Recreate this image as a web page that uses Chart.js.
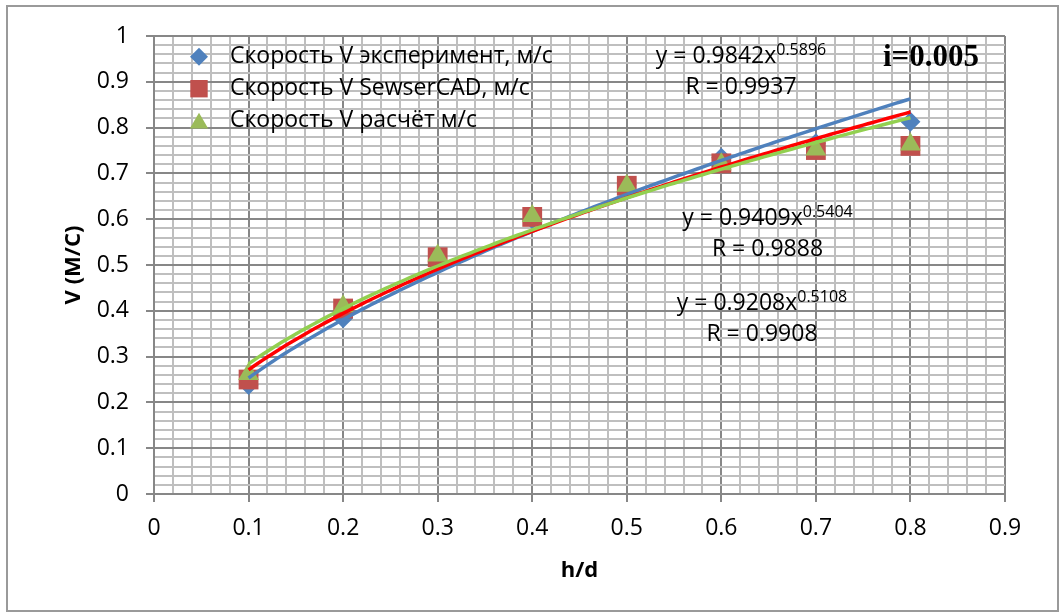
<!DOCTYPE html>
<html>
<head>
<meta charset="utf-8">
<script src="https://cdn.jsdelivr.net/npm/chart.js@4/dist/chart.umd.min.js"></script>
<style>
  html, body { margin: 0; padding: 0; background: #fff; }
  #wrap { width: 1061px; height: 613px; position: relative; }
</style>
</head>
<body>
<div id="wrap"><canvas id="chart"></canvas></div>
<script>
// h/d filling ratio
const depthRatio = [0.1, 0.2, 0.3, 0.4, 0.5, 0.6, 0.7, 0.8];
// flow velocity, m/s
const speedExperiment = [0.238, 0.384, 0.505, 0.600, 0.675, 0.734, 0.766, 0.813];
const speedSewerCad   = [0.250, 0.405, 0.517, 0.605, 0.673, 0.722, 0.751, 0.760];
const speedCalculated = [0.262, 0.410, 0.521, 0.607, 0.673, 0.720, 0.752, 0.763];

const seriesNames = [
  'Скорость V эксперимент, м/с',
  'Скорость V SewserCAD, м/с',
  'Скорость V расчёт м/с'
];

// power trendlines y = a·x^b and their correlation
const trendCoef = [0.9842, 0.9409, 0.9208];
const trendExp  = [0.5896, 0.5404, 0.5108];
const trendR    = ['0.9937', '0.9888', '0.9908'];

const slopeLabel = 'i=0.005';
const xTickLabels = ['0', '0.1', '0.2', '0.3', '0.4', '0.5', '0.6', '0.7', '0.8', '0.9'];
const yTickLabels = ['0', '0.1', '0.2', '0.3', '0.4', '0.5', '0.6', '0.7', '0.8', '0.9', '1'];
const xTitle = 'h/d';
const yTitle = 'V (M/C)';

const FONT = "'Open Sans', sans-serif";
const MAJOR = '#878787';
const MINOR = '#bfbfbf';
const markerColors = ['#4F81BD', '#C0504D', '#9BBB59'];
const markerStyles = ['rectRot', 'rect', 'triangle'];
const markerRadius = [10, 14, 12];
const trendColors = ['#4F81BD', '#FF0000', '#92D050'];

Chart.defaults.font.family = FONT;

function isMajor(v) {
  return v !== undefined && Math.abs(v * 10 - Math.round(v * 10)) < 1e-6;
}

// trendline curve sampled along the measured h/d range
function trendPoints(k) {
  const pts = [];
  const x0 = depthRatio[0], x1 = depthRatio[depthRatio.length - 1];
  const n = 140;
  for (let i = 0; i <= n; i++) {
    const x = x0 + (x1 - x0) * i / n;
    pts.push({ x: x, y: trendCoef[k] * Math.pow(x, trendExp[k]) });
  }
  return pts;
}

const seriesValues = [speedExperiment, speedSewerCad, speedCalculated];

const datasets = [];
seriesValues.forEach((vals, k) => {
  datasets.push({
    type: 'scatter',
    label: seriesNames[k],
    data: depthRatio.map((x, i) => ({ x: x, y: vals[i] })),
    pointStyle: markerStyles[k],
    pointRadius: markerRadius[k],
    pointBackgroundColor: markerColors[k],
    pointBorderColor: markerColors[k],
    pointBorderWidth: 0,
    showLine: false,
    order: 6 - k
  });
});
seriesValues.forEach((vals, k) => {
  datasets.push({
    type: 'line',
    label: 'trend ' + k,
    data: trendPoints(k),
    borderColor: trendColors[k],
    borderWidth: 3.5,
    pointRadius: 0,
    fill: false,
    tension: 0,
    order: 3 - k
  });
});

function drawEquation(ctx, cx, baseline, k) {
  const main = 'y = ' + trendCoef[k].toFixed(4) + 'x';
  const sup = trendExp[k].toFixed(4);
  ctx.font = '23px ' + FONT;
  const wMain = ctx.measureText(main).width;
  ctx.font = '16px ' + FONT;
  const wSup = ctx.measureText(sup).width;
  const left = cx - (wMain + wSup) / 2;
  ctx.textAlign = 'left';
  ctx.textBaseline = 'alphabetic';
  ctx.font = '23px ' + FONT;
  ctx.fillText(main, left, baseline);
  ctx.font = '16px ' + FONT;
  ctx.fillText(sup, left + wMain, baseline - 8);
  ctx.font = '23px ' + FONT;
  ctx.textAlign = 'center';
  ctx.fillText('R = ' + trendR[k], cx, baseline + 31);
}

const decor = {
  id: 'decor',
  beforeDraw(chart) {
    const ctx = chart.ctx;
    ctx.save();
    ctx.fillStyle = '#fff';
    ctx.fillRect(0, 0, chart.width, chart.height);
    ctx.strokeStyle = '#9a9a9a';
    ctx.lineWidth = 2;
    ctx.strokeRect(7, 6, 1051, 605);
    ctx.restore();
  },
  afterDraw(chart) {
    const ctx = chart.ctx;
    ctx.save();
    ctx.fillStyle = '#000';

    // series key in the upper-left corner of the plot
    const keyCenters = [56.7, 88.7, 123.3];
    const keyRadius = [9, 12.3, 10.6];
    const keyBaselines = [63.3, 95, 126.7];
    for (let k = 0; k < 3; k++) {
      ctx.fillStyle = markerColors[k];
      ctx.strokeStyle = markerColors[k];
      ctx.lineWidth = 0.01;
      Chart.helpers.drawPoint(ctx, {
        pointStyle: markerStyles[k],
        radius: keyRadius[k],
        borderWidth: 0,
        rotation: 0
      }, 199, keyCenters[k]);
      ctx.fillStyle = '#000';
      ctx.font = '23px ' + FONT;
      ctx.textAlign = 'left';
      ctx.textBaseline = 'alphabetic';
      ctx.fillText(seriesNames[k], 230, keyBaselines[k]);
    }

    // trendline equations
    drawEquation(ctx, 741, 62.5, 0);
    drawEquation(ctx, 767.5, 225, 1);
    drawEquation(ctx, 762, 310, 2);

    // pipe slope
    ctx.font = "bold 31px 'Liberation Serif', 'Times New Roman', serif";
    ctx.textAlign = 'left';
    ctx.textBaseline = 'alphabetic';
    ctx.fillText(slopeLabel, 883, 66);
    ctx.restore();
  }
};

const gridOpts = {
  color: c => isMajor(c.tick && c.tick.value) ? MAJOR : MINOR,
  lineWidth: 2,
  tickLength: 8,
  tickWidth: 2,
  tickColor: c => isMajor(c.tick && c.tick.value) ? MAJOR : 'rgba(0,0,0,0)'
};

new Chart(document.getElementById('chart'), {
  data: { datasets: datasets },
  options: {
    responsive: true,
    maintainAspectRatio: false,
    animation: false,
    events: [],
    layout: { padding: { left: 57, top: 36, right: 56, bottom: 25 } },
    plugins: {
      legend: { display: false },
      tooltip: { enabled: false }
    },
    scales: {
      x: {
        type: 'linear',
        min: 0,
        max: 0.9,
        afterFit(s) {
          s.height = 94;
          s.paddingLeft = 0; s.paddingRight = 0; s.paddingTop = 0; s.paddingBottom = 0;
        },
        ticks: {
          stepSize: 0.02,
          autoSkip: false,
          maxRotation: 0,
          minRotation: 0,
          padding: 13,
          color: '#000',
          font: { family: FONT, size: 23 },
          callback: v => isMajor(v) ? xTickLabels[Math.round(v * 10)] : ''
        },
        grid: gridOpts,
        border: { color: MAJOR, width: 2 },
        title: {
          display: true,
          text: xTitle,
          color: '#000',
          font: { family: FONT, size: 22, weight: 'bold' }
        }
      },
      y: {
        type: 'linear',
        min: 0,
        max: 1,
        afterFit(s) {
          s.width = 97;
          s.paddingLeft = 0; s.paddingRight = 0; s.paddingTop = 0; s.paddingBottom = 0;
        },
        ticks: {
          stepSize: 0.02,
          autoSkip: false,
          padding: 17,
          color: '#000',
          font: { family: FONT, size: 23 },
          callback: v => isMajor(v) ? yTickLabels[Math.round(v * 10)] : ''
        },
        grid: gridOpts,
        border: { color: MAJOR, width: 2 },
        title: {
          display: true,
          text: yTitle,
          color: '#000',
          font: { family: FONT, size: 22, weight: 'bold' }
        }
      }
    }
  },
  plugins: [decor]
});
</script>
</body>
</html>
